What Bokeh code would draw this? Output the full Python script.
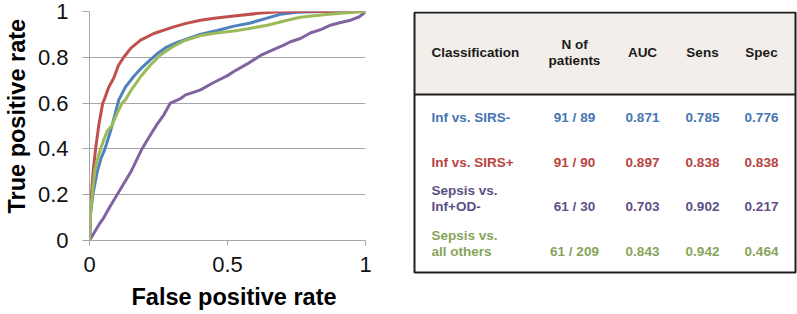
from bokeh.plotting import figure
from bokeh.layouts import row
from bokeh.models import Range1d, FixedTicker
from bokeh.core.properties import value
from bokeh.embed import file_html
from bokeh.resources import INLINE

# ---------------- data ----------------
series_names = ["Inf vs. SIRS-", "Inf vs. SIRS+", "Sepsis vs. Inf+OD-", "Sepsis vs. all others"]

blue_fpr = [0, 0.004, 0.012, 0.028, 0.042, 0.056, 0.076, 0.092, 0.106, 0.13, 0.16, 0.19, 0.221, 0.25,
            0.281, 0.32, 0.354, 0.4, 0.463, 0.52, 0.583, 0.64, 0.692, 0.75, 0.85, 1.0]
blue_tpr = [0, 0.12, 0.2, 0.3, 0.36, 0.4, 0.477, 0.55, 0.614, 0.67, 0.716, 0.755, 0.79, 0.82,
            0.846, 0.866, 0.88, 0.9, 0.917, 0.935, 0.95, 0.97, 0.988, 0.997, 1.0, 1.0]

red_fpr = [0, 0.003, 0.007, 0.013, 0.022, 0.034, 0.048, 0.055, 0.07, 0.088, 0.105, 0.124, 0.15,
           0.185, 0.233, 0.305, 0.35, 0.402, 0.46, 0.523, 0.62, 0.7, 1.0]
red_tpr = [0, 0.1, 0.2, 0.3, 0.4, 0.506, 0.6, 0.62, 0.67, 0.71, 0.765, 0.8, 0.84,
           0.875, 0.904, 0.933, 0.948, 0.962, 0.972, 0.98, 0.993, 1.0, 1.0]

purple_fpr = [0, 0.02, 0.035, 0.052, 0.075, 0.1, 0.125, 0.15, 0.17, 0.19, 0.215, 0.244, 0.27, 0.293,
              0.33, 0.348, 0.384, 0.402, 0.45, 0.5, 0.523, 0.57, 0.62, 0.66, 0.704, 0.728, 0.764,
              0.8, 0.84, 0.873, 0.91, 0.946, 0.976, 0.994, 1.0]
purple_tpr = [0, 0.04, 0.07, 0.1, 0.15, 0.2, 0.25, 0.3, 0.35, 0.4, 0.45, 0.506, 0.55, 0.6,
              0.62, 0.636, 0.65, 0.658, 0.69, 0.72, 0.738, 0.77, 0.808, 0.83, 0.853, 0.868, 0.882,
              0.906, 0.922, 0.94, 0.952, 0.962, 0.976, 0.992, 1.0]

green_fpr = [0, 0.004, 0.01, 0.019, 0.03, 0.04, 0.052, 0.064, 0.08, 0.1, 0.118, 0.13, 0.15, 0.173,
             0.185, 0.22, 0.257, 0.3, 0.342, 0.402, 0.46, 0.523, 0.58, 0.644, 0.728, 0.764, 0.848,
             0.92, 1.0]
green_tpr = [0, 0.12, 0.2, 0.304, 0.36, 0.4, 0.44, 0.477, 0.5, 0.555, 0.6, 0.614, 0.655, 0.694,
             0.715, 0.765, 0.81, 0.845, 0.872, 0.895, 0.906, 0.915, 0.926, 0.94, 0.965, 0.975, 0.986,
             0.993, 1.0]

x_ticks = [0, 0.5, 1]
x_tick_labels = ["0", "0.5", "1"]
y_ticks = [0, 0.2, 0.4, 0.6, 0.8, 1]
y_tick_labels = ["0", "0.2", "0.4", "0.6", "0.8", "1"]

# table data
table_headers = ["Classification", "N of\npatients", "AUC", "Sens", "Spec"]
table_class = ["Inf vs. SIRS-", "Inf vs. SIRS+", "Sepsis vs.\nInf+OD-", "Sepsis vs.\nall others"]
table_n = ["91 / 89", "91 / 90", "61 / 30", "61 / 209"]
table_auc = [0.871, 0.897, 0.703, 0.843]
table_sens = [0.785, 0.838, 0.902, 0.942]
table_spec = [0.776, 0.838, 0.217, 0.464]

line_colors = ["#4F81BD", "#C0504D", "#8064A2", "#9BBB59"]
text_colors = ["#4675B2", "#B8433F", "#5E4F86", "#88A45A"]

FONT = "Liberation Sans"
NB = "\u00a0"
TOP = 11  # shared top border of both figures

# ---------------- ROC plot ----------------
p = figure(width=400, height=314, x_range=Range1d(0, 1), y_range=Range1d(0, 1),
           output_backend="svg", toolbar_location=None,
           min_border_left=89, min_border_right=35, min_border_top=TOP, min_border_bottom=74)
p.outline_line_color = None
p.background_fill_color = "white"
p.border_fill_color = "white"

curves = [(blue_fpr, blue_tpr), (red_fpr, red_tpr), (purple_fpr, purple_tpr), (green_fpr, green_tpr)]
for (fx, fy), c in zip(curves, line_colors):
    p.line(fx, fy, line_color=c, line_width=3, line_join="round")

p.xgrid.visible = False
p.ygrid.ticker = FixedTicker(ticks=y_ticks)
p.ygrid.grid_line_color = "#A6A6A6"
p.ygrid.grid_line_width = 1

p.xaxis.ticker = FixedTicker(ticks=x_ticks)
p.yaxis.ticker = FixedTicker(ticks=y_ticks)
p.xaxis.major_label_overrides = {t: l for t, l in zip(x_ticks, x_tick_labels)}
p.yaxis.major_label_overrides = {t: l for t, l in zip(y_ticks, y_tick_labels)}

for ax in (p.xaxis[0], p.yaxis[0]):
    ax.axis_line_color = "#A6A6A6"
    ax.major_tick_line_color = "#A6A6A6"
    ax.minor_tick_line_color = None
    ax.major_tick_in = 0
    ax.major_label_text_font = FONT
    ax.major_label_text_font_size = "22px"
    ax.major_label_text_color = "#111111"
    ax.axis_label_text_font = FONT
    ax.axis_label_text_font_size = "23.5px"
    ax.axis_label_text_font_style = "bold"
    ax.axis_label_text_color = "#000000"

p.xaxis.major_tick_out = 5
p.xaxis.major_label_standoff = 11
p.xaxis.axis_label = NB * 2 + "False positive rate"
p.xaxis.axis_label_standoff = 9
p.yaxis.major_tick_out = 7
p.yaxis.major_label_standoff = 14
p.yaxis.axis_label = NB * 3 + "True positive rate"
p.yaxis.axis_label_standoff = 5

# ---------------- table ----------------
TW, TH = 397, 314
t = figure(frame_width=TW, frame_height=TH - TOP, x_range=Range1d(0, TW), y_range=Range1d(TH, TOP),
           output_backend="svg", toolbar_location=None,
           x_axis_location=None, y_axis_location=None,
           min_border_left=0, min_border_right=0, min_border_top=TOP, min_border_bottom=0)
t.grid.visible = False
t.outline_line_color = None
t.background_fill_color = "white"
t.border_fill_color = "white"

T_LEFT, T_RIGHT, T_TOP, T_SEP, T_BOTTOM = 14, 395, 12, 94, 272
t.quad(left=[T_LEFT], right=[T_RIGHT], top=[T_TOP], bottom=[T_SEP],
       fill_color="#F3EEE9", line_color=None)
t.quad(left=[T_LEFT], right=[T_RIGHT], top=[T_TOP], bottom=[T_BOTTOM],
       fill_color=None, line_color="#1E1E1E", line_width=2)
t.segment(x0=[T_LEFT], x1=[T_RIGHT], y0=[T_SEP], y1=[T_SEP], line_color="#1E1E1E", line_width=2)

col_x = [31, 174, 242, 302, 361]
col_align = ["left", "center", "center", "center", "center"]
HEADER_Y = 52
LINE_H = 16.5
FS = "13.5px"

def put_text(x, y_last, label, color, align):
    lines = label.split("\n")
    n = len(lines)
    ys = [y_last - (n - 1 - i) * LINE_H for i in range(n)]
    t.text(x=[x] * n, y=ys, text=lines, text_color=color, text_font=value(FONT),
           text_font_size=FS, text_font_style="bold", text_align=align, text_baseline="middle")

for h, cx, al in zip(table_headers, col_x, col_align):
    n = len(h.split("\n"))
    put_text(cx, HEADER_Y + (n - 1) * LINE_H / 2, h, "#1A1A1A", al)

row_y = [117, 162, 206, 251]
for i in range(len(table_class)):
    c = text_colors[i]
    put_text(col_x[0], row_y[i], table_class[i], c, "left")
    put_text(col_x[1], row_y[i], table_n[i], c, "center")
    put_text(col_x[2], row_y[i], f"{table_auc[i]:.3f}", c, "center")
    put_text(col_x[3], row_y[i], f"{table_sens[i]:.3f}", c, "center")
    put_text(col_x[4], row_y[i], f"{table_spec[i]:.3f}", c, "center")

layout = row(p, t)
open("out.html", "w").write(file_html(layout, INLINE))
